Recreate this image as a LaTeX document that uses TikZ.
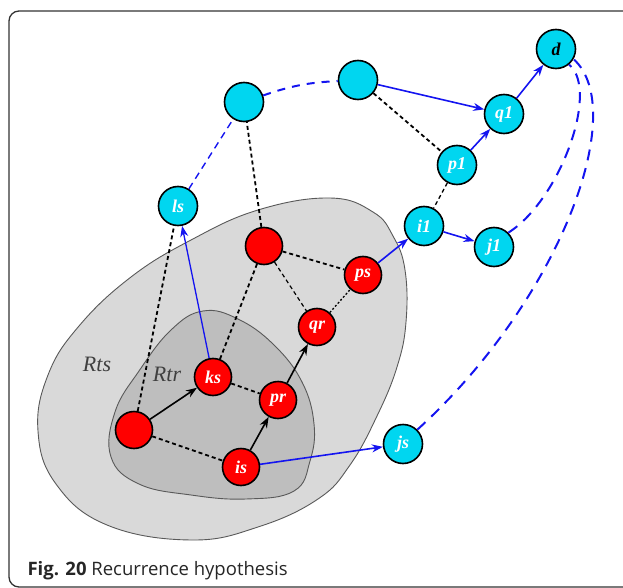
\documentclass[tikz,border=0pt]{standalone}
\usepackage{fontspec}
\setmainfont{Liberation Serif}
\newfontfamily\capfont{Open Sans}
\usetikzlibrary{arrows.meta}

\definecolor{nodecyan}{RGB}{0,214,240}
\definecolor{nodered}{RGB}{255,0,0}
\definecolor{outergray}{RGB}{217,217,217}
\definecolor{innergray}{RGB}{190,190,190}
\definecolor{linkblue}{RGB}{20,20,240}

\begin{document}
\begin{tikzpicture}[
  x=1pt, y=-1pt,
  dnode/.style={circle, draw, line width=1.6pt, minimum size=39pt, inner sep=0pt, fill=nodecyan, text=white, font=\fontsize{18}{18}\selectfont\bfseries\itshape},
  snode/.style={dnode, fill=nodered, minimum size=37pt},
  blink/.style={dash pattern=on 4pt off 3pt, line width=1.8pt},
  arrow/.style={-{Stealth[length=11pt,width=8pt]}, line width=1.6pt},
  barrow/.style={arrow, draw=linkblue, fill=linkblue},
  bdash/.style={draw=linkblue, line width=2pt, dash pattern=on 11pt off 8pt},
  region/.style={draw=black!65, line width=0.9pt},
  rlabel/.style={text=black!75, font=\fontsize{22}{22}\selectfont\itshape}
]
  \useasboundingbox (0,0) rectangle (623,588);
  \begin{scope}
    \clip (0,0) rectangle (623,588);
    \draw[line width=1.3pt, black!80, rounded corners=10pt] (9,11) rectangle (650,587);
  \end{scope}

  % regions
  \draw[region, fill=outergray] plot[smooth cycle, tension=0.7] coordinates {
    (330,198) (373,212) (393,236) (405,270) (406,322) (397,367) (377,416)
    (350,465) (318,499) (258,527) (191,540) (107,525) (56,484) (38,431)
    (48,375) (79,326) (131,277) (191,240) (258,210)};
  \draw[region, fill=innergray] plot[smooth cycle, tension=0.7] coordinates {
    (203,311) (238,319) (274,345) (302,382) (314,424) (310,461) (294,491)
    (246,499) (191,495) (139,484) (111,457) (115,412) (139,371) (171,330)};
  \node[rlabel] (rts) at (97,364) {Rts};
  \node[rlabel] (rtr) at (167,374) {Rtr};

  % nodes
  \node[dnode, text=black] (d) at (556,49) {d};
  \node[dnode] (n2) at (358,80) {};
  \node[dnode] (n1) at (244,102) {};
  \node[dnode] (q1) at (504,114) {q1};
  \node[dnode] (p1) at (457,165) {p1};
  \node[dnode] (ls) at (178,206) {ls};
  \node[dnode] (i1) at (424,226) {i1};
  \node[dnode] (j1) at (494,247) {j1};
  \node[dnode] (js) at (403,444) {js};
  \node[snode] (r1) at (264,246) {};
  \node[snode] (ps) at (363,275) {ps};
  \node[snode] (qr) at (317,327) {qr};
  \node[snode] (ks) at (213,377) {ks};
  \node[snode] (pr) at (278,400) {pr};
  \node[snode] (r0) at (134,430) {};
  \node[snode] (is) at (241,467) {is};

  % black links
  \draw[blink] (r0) -- (ls);
  \draw[blink] (r0) -- (is);
  \draw[blink] (ks) -- (pr);
  \draw[blink] (ks) -- (r1);
  \draw[blink] (r1) -- (ps);
  \draw[blink, line width=1.2pt] (r1) -- (qr);
  \draw[blink, line width=1.3pt, dash pattern=on 2pt off 2pt] (qr) -- (ps);
  \draw[blink] (r1) -- (n1);
  \draw[blink] (n2) -- (p1);
  \draw[blink, line width=1.3pt] (p1) -- (i1);

  % black arrows
  \draw[arrow] (r0) -- (ks);
  \draw[arrow] (is) -- (pr);
  \draw[arrow] (pr) -- (qr);

  % blue arrows
  \draw[barrow, line width=1.3pt] (ks) -- (ls);
  \draw[barrow] (is) -- (js);
  \draw[barrow] (ps) -- (i1);
  \draw[barrow] (i1) -- (j1);
  \draw[barrow] (n2) -- (q1);
  \draw[barrow] (p1) -- (q1);
  \draw[barrow] (q1) -- (d);

  % blue dashed links
  \draw[bdash, line width=1.4pt, dash pattern=on 7pt off 5pt] (ls) -- (n1);
  \draw[bdash, dash pattern=on 8pt off 7pt] (n1) to[bend left=8] (n2);
  \draw[bdash] (j1.45) .. controls (560,200) and (600,90) .. (d.-50);
  \draw[bdash] (js.45) .. controls (560,300) and (630,110) .. (d.-30);

  % caption
  \node[anchor=base west, font=\capfont\fontsize{18.5}{18.5}\selectfont, text=black!85] (cap) at (24,575)
  {\textbf{Fig. 20} Recurrence hypothesis};
\end{tikzpicture}
\end{document}
